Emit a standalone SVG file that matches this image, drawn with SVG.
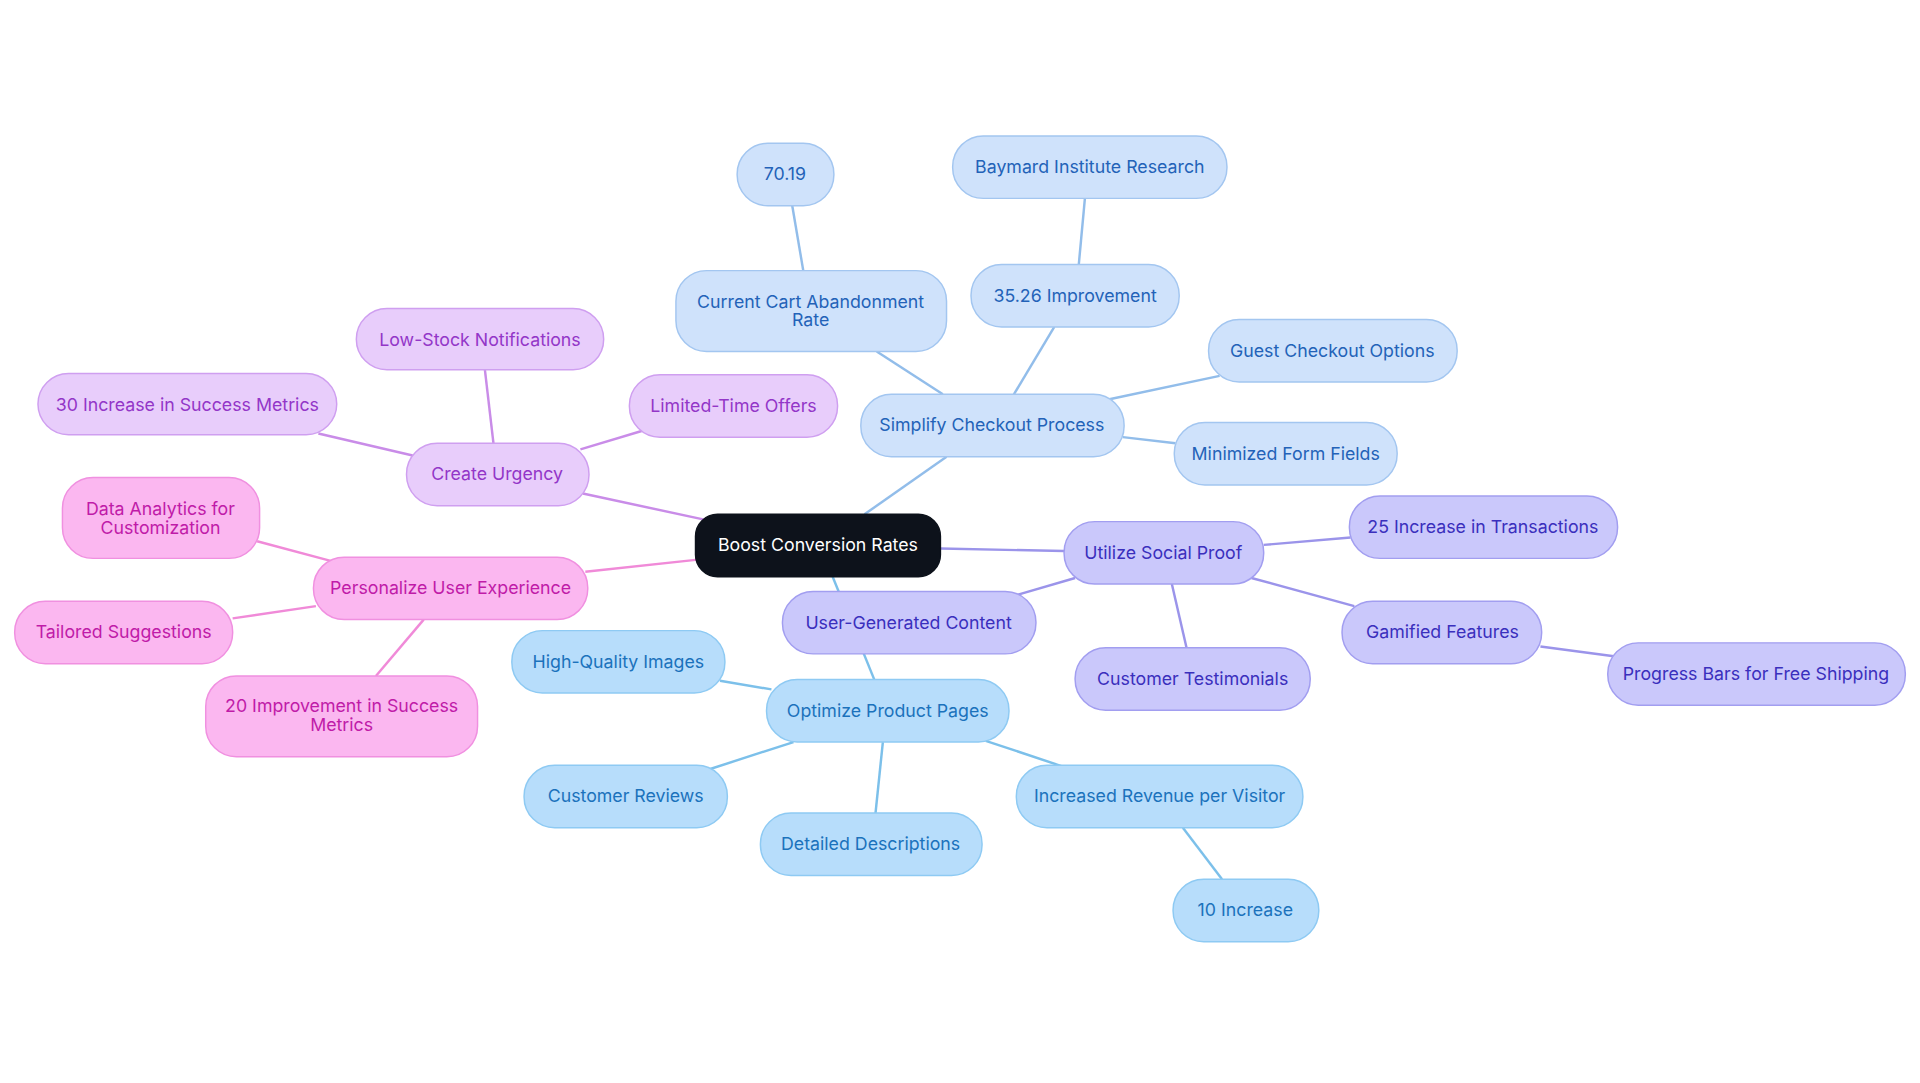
<svg xmlns="http://www.w3.org/2000/svg" width="1920" height="1083" viewBox="0 0 1920 1083">
<style>
text{font-family:Inter,"Noto Sans",sans-serif;font-size:14.5px;text-anchor:middle;dominant-baseline:central}
rect{stroke-width:1.2}
.root rect{fill:#0d121b;stroke:#0d121b}.root text{fill:#fff}
.b rect{fill:#cfe2fb;stroke:#a3c6f0}.b text{fill:#2362b8}
.p rect{fill:#e8cdfb;stroke:#cf9ff0}.p text{fill:#9336c8}
.k rect{fill:#fbb7f0;stroke:#f090e0}.k text{fill:#c01ba8}
.i rect{fill:#cac8fb;stroke:#a29ef0}.i text{fill:#3a2fbd}
.s rect{fill:#b7ddfb;stroke:#8ecaf3}.s text{fill:#1b72bc}
#edges line{stroke-width:2;fill:none}
.eb{stroke:#92bdea}.ep{stroke:#c98ce8}.ek{stroke:#f08ad8}.ei{stroke:#9b94ea}.es{stroke:#7cc0ea}
</style>
<rect width="1920" height="1083" fill="#fff"/>
<g transform="scale(1.2245)">
<g id="edges">
<line class="eb" x1="706" y1="420" x2="773" y2="373"/>
<line class="eb" x1="770" y1="322" x2="716" y2="287"/>
<line class="eb" x1="656" y1="221" x2="647" y2="168"/>
<line class="eb" x1="828" y1="322" x2="861" y2="267"/>
<line class="eb" x1="881" y1="216" x2="886" y2="162"/>
<line class="eb" x1="906" y1="326" x2="996" y2="307"/>
<line class="eb" x1="917" y1="357" x2="960" y2="362"/>
<line class="ep" x1="578" y1="425" x2="476" y2="403"/>
<line class="ep" x1="403" y1="362" x2="396" y2="302"/>
<line class="ep" x1="337" y1="372" x2="260" y2="354"/>
<line class="ep" x1="474" y1="367" x2="524" y2="352"/>
<line class="ek" x1="570" y1="457" x2="478" y2="467"/>
<line class="ek" x1="270" y1="458" x2="210" y2="442"/>
<line class="ek" x1="258" y1="495" x2="190" y2="505"/>
<line class="ek" x1="346" y1="506" x2="307" y2="552"/>
<line class="ei" x1="768" y1="448" x2="869" y2="450"/>
<line class="ei" x1="1032" y1="445" x2="1103" y2="439"/>
<line class="ei" x1="1022" y1="472" x2="1106" y2="495"/>
<line class="ei" x1="1258" y1="528" x2="1318" y2="536"/>
<line class="ei" x1="957" y1="477" x2="969" y2="529"/>
<line class="ei" x1="878" y1="472" x2="830" y2="486"/>
<line class="es" x1="680" y1="471" x2="714" y2="555"/>
<line class="es" x1="630" y1="563" x2="588" y2="556"/>
<line class="es" x1="648" y1="606" x2="580" y2="628"/>
<line class="es" x1="721" y1="606" x2="715" y2="664"/>
<line class="es" x1="805" y1="605" x2="868" y2="626"/>
<line class="es" x1="966" y1="676" x2="998" y2="718"/>
</g>
<g id="n-root" class="root"><rect x="568" y="420" width="200" height="51" rx="18"/><text x="668" y="445">Boost Conversion Rates</text></g>
<g id="n-checkout" class="b"><rect x="703" y="322" width="215" height="51" rx="25"/><text x="810" y="347">Simplify Checkout Process</text></g>
<g id="n-current" class="b"><rect x="552" y="221" width="221" height="66" rx="25"/><text x="662" y="246">Current Cart Abandonment</text><text x="662" y="261">Rate</text></g>
<g id="n-7019" class="b"><rect x="602" y="117" width="79" height="51" rx="25"/><text x="641" y="142">70.19</text></g>
<g id="n-3526" class="b"><rect x="793" y="216" width="170" height="51" rx="25"/><text x="878" y="241">35.26 Improvement</text></g>
<g id="n-baymard" class="b"><rect x="778" y="111" width="224" height="51" rx="25"/><text x="890" y="136">Baymard Institute Research</text></g>
<g id="n-guest" class="b"><rect x="987" y="261" width="203" height="51" rx="25"/><text x="1088" y="286">Guest Checkout Options</text></g>
<g id="n-min" class="b"><rect x="959" y="345" width="182" height="51" rx="25"/><text x="1050" y="370">Minimized Form Fields</text></g>
<g id="n-urgency" class="p"><rect x="332" y="362" width="149" height="51" rx="25"/><text x="406" y="387">Create Urgency</text></g>
<g id="n-lowstock" class="p"><rect x="291" y="252" width="202" height="50" rx="25"/><text x="392" y="277">Low-Stock Notifications</text></g>
<g id="n-30" class="p"><rect x="31" y="305" width="244" height="50" rx="25"/><text x="153" y="330">30 Increase in Success Metrics</text></g>
<g id="n-limited" class="p"><rect x="514" y="306" width="170" height="51" rx="25"/><text x="599" y="331">Limited-Time Offers</text></g>
<g id="n-personal" class="k"><rect x="256" y="455" width="224" height="51" rx="25"/><text x="368" y="480">Personalize User Experience</text></g>
<g id="n-data" class="k"><rect x="51" y="390" width="161" height="66" rx="25"/><text x="131" y="415">Data Analytics for</text><text x="131" y="431">Customization</text></g>
<g id="n-tailored" class="k"><rect x="12" y="491" width="178" height="51" rx="25"/><text x="101" y="516">Tailored Suggestions</text></g>
<g id="n-20" class="k"><rect x="168" y="552" width="222" height="66" rx="25"/><text x="279" y="576">20 Improvement in Success</text><text x="279" y="592">Metrics</text></g>
<g id="n-social" class="i"><rect x="869" y="426" width="163" height="51" rx="25"/><text x="950" y="451">Utilize Social Proof</text></g>
<g id="n-25" class="i"><rect x="1102" y="405" width="219" height="51" rx="25"/><text x="1211" y="430">25 Increase in Transactions</text></g>
<g id="n-gamified" class="i"><rect x="1096" y="491" width="163" height="51" rx="25"/><text x="1178" y="516">Gamified Features</text></g>
<g id="n-progress" class="i"><rect x="1313" y="525" width="243" height="51" rx="25"/><text x="1434" y="550">Progress Bars for Free Shipping</text></g>
<g id="n-testimonials" class="i"><rect x="878" y="529" width="192" height="51" rx="25"/><text x="974" y="554">Customer Testimonials</text></g>
<g id="n-ugc" class="i"><rect x="639" y="483" width="207" height="51" rx="25"/><text x="742" y="508">User-Generated Content</text></g>
<g id="n-product" class="s"><rect x="626" y="555" width="198" height="51" rx="25"/><text x="725" y="580">Optimize Product Pages</text></g>
<g id="n-hq" class="s"><rect x="418" y="515" width="174" height="51" rx="25"/><text x="505" y="540">High-Quality Images</text></g>
<g id="n-reviews" class="s"><rect x="428" y="625" width="166" height="51" rx="25"/><text x="511" y="650">Customer Reviews</text></g>
<g id="n-detailed" class="s"><rect x="621" y="664" width="181" height="51" rx="25"/><text x="711" y="689">Detailed Descriptions</text></g>
<g id="n-revenue" class="s"><rect x="830" y="625" width="234" height="51" rx="25"/><text x="947" y="650">Increased Revenue per Visitor</text></g>
<g id="n-10" class="s"><rect x="958" y="718" width="119" height="51" rx="25"/><text x="1017" y="743">10 Increase</text></g>
</g>
</svg>
